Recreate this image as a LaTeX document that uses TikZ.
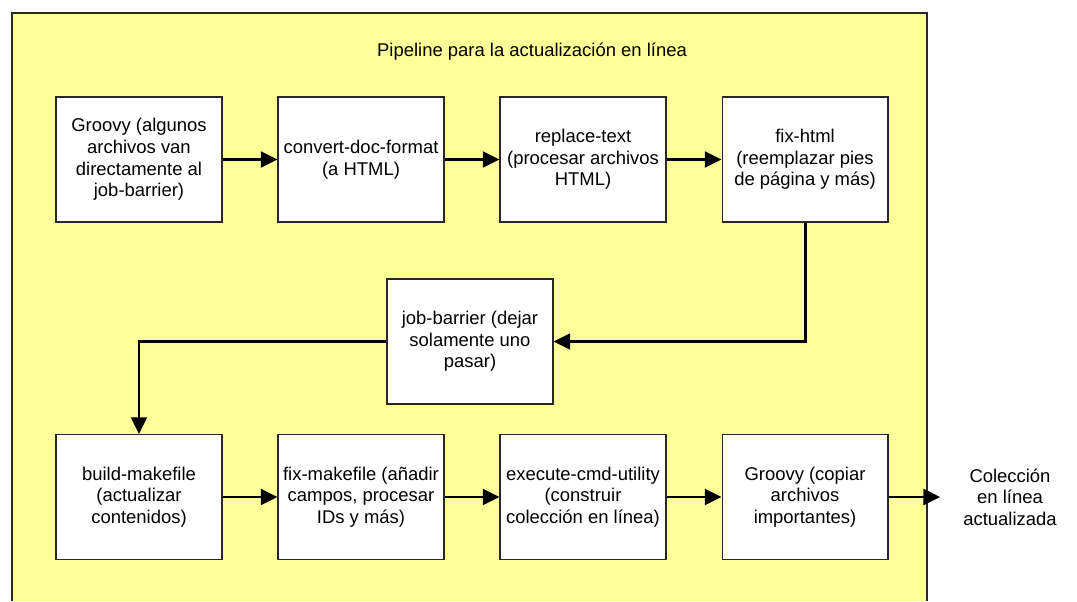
\documentclass[tikz,border=0pt]{standalone}
\usepackage{fontspec}
\setmainfont{Liberation Sans}
\usepackage{xcolor}
\usetikzlibrary{positioning,arrows.meta}
\definecolor{pipebg}{RGB}{255,255,153}
\definecolor{boxline}{RGB}{40,40,40}

\begin{document}
\begin{tikzpicture}[x=0.02cm, y=-0.02cm,
    box/.style={rectangle, draw=boxline, line width=0.6pt, fill=white, minimum width=3.32cm, minimum height=2.5cm, align=center, inner sep=1pt, font=\fontsize{10.5}{12.35}\selectfont},
    arrow/.style={-{Triangle[length=9.5pt,width=9pt]}, line width=1.7pt}
]
\useasboundingbox (0,0) rectangle (1077,601);
\fill[pipebg] (12,13) rectangle (927,601);
\draw[boxline, line width=0.6pt] (12,601) -- (12,13) -- (927,13) -- (927,601);
\node[font=\fontsize{10.5}{12.35}\selectfont] (title) at (532,52) {Pipeline para la actualización en línea};

\node[box] (groovya) at (139,159.5) {Groovy (algunos\\archivos van\\directamente al\\job-barrier)};
\node[box] (convert) at (361,159.5) {convert-doc-format\\(a HTML)};
\node[box] (replace) at (583,159.5) {replace-text\\(procesar archivos\\HTML)};
\node[box] (fixhtml) at (805,159.5) {fix-html\\(reemplazar pies\\de página y más)};
\node[box] (barrier) at (470,341.5) {job-barrier (dejar\\solamente uno\\pasar)};
\node[box] (buildmk) at (139,497) {build-makefile\\(actualizar\\contenidos)};
\node[box] (fixmk) at (361,497) {fix-makefile (añadir\\campos, procesar\\IDs y más)};
\node[box] (execute) at (583,497) {execute-cmd-utility\\(construir\\colección en línea)};
\node[box] (groovyb) at (805,497) {Groovy (copiar\\archivos\\importantes)};
\node[align=center, font=\fontsize{10.5}{12.35}\selectfont] (result) at (1010,497) {Colección\\en línea\\actualizada};

\draw[arrow] (groovya) -- (convert);
\draw[arrow] (convert) -- (replace);
\draw[arrow] (replace) -- (fixhtml);
\draw[arrow] (fixhtml.south) |- (barrier.east);
\draw[arrow] (barrier.west) -| (buildmk.north);
\draw[arrow] (buildmk) -- (fixmk);
\draw[arrow] (fixmk) -- (execute);
\draw[arrow] (execute) -- (groovyb);
\draw[arrow, shorten >=0.34cm] (groovyb.east) -- (result.west);
\end{tikzpicture}
\end{document}
